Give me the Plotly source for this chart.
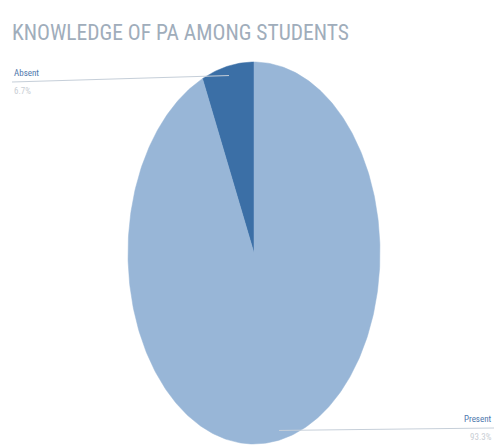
import numpy as np
import plotly.graph_objects as go

categories = ["Absent", "Present"]
values = [6.7, 93.3]
colors = ["#3b6fa6", "#98b6d7"]

W, H = 494, 446
cx, cy, rx, ry = 254, 253, 126, 191

fig = go.Figure()
total = sum(values)
start = 0.0
mids = []
for cat, v, col in zip(categories, values, colors):
    frac = v / total
    a0, a1 = start, start + frac * 2 * np.pi
    t = np.linspace(a0, a1, max(int(frac * 400), 8))
    xs = np.concatenate([[cx], cx - rx * np.sin(t), [cx]])
    ys = np.concatenate([[cy], cy - ry * np.cos(t), [cy]])
    fig.add_trace(go.Scatter(x=xs, y=ys, fill="toself", fillcolor=col, mode="lines",
                             line=dict(color=col, width=0.5), hoverinfo="skip", showlegend=False))
    mids.append((a0 + a1) / 2)
    start = a1

font_fam = "Roboto Condensed, DejaVu Sans Condensed, sans-serif"
label_pos = [(12, 82, "left"), (494, 428, "right")]
for cat, v, m, (lx, ly, side) in zip(categories, values, mids, label_pos):
    px = cx - 0.95 * rx * np.sin(m)
    py = cy - 0.95 * ry * np.cos(m)
    fig.add_trace(go.Scatter(x=[lx, px], y=[ly, py], mode="lines",
                             line=dict(color="#c6cfd9", width=1), hoverinfo="skip", showlegend=False))
    fig.add_annotation(x=lx, y=ly, text=cat, showarrow=False, xanchor=side, yanchor="bottom",
                       yshift=2, font=dict(family=font_fam, size=9, color="#4f78ad"))
    fig.add_annotation(x=lx, y=ly, text=f"{v}%", showarrow=False, xanchor=side, yanchor="top",
                       yshift=-2, font=dict(family=font_fam, size=9, color="#c9ced4"))

fig.update_layout(
    width=W, height=H, margin=dict(l=0, r=0, t=0, b=0),
    paper_bgcolor="white", plot_bgcolor="white",
    title=dict(text="KNOWLEDGE OF PA AMONG STUDENTS", x=12 / W, xanchor="left",
               y=1 - 32 / H, yanchor="middle",
               font=dict(family=font_fam, size=21.5, color="#a0adbb")),
    xaxis=dict(range=[0, W], visible=False, fixedrange=True),
    yaxis=dict(range=[H, 0], visible=False, fixedrange=True),
)
fig.write_html("out.html")
